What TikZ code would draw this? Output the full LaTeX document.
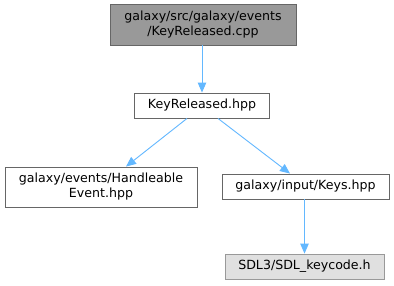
\documentclass[tikz,border=0pt]{standalone}
\usepackage{fontspec}
\setmainfont{DejaVu Sans}
\usetikzlibrary{arrows.meta}
\definecolor{edgeblue}{HTML}{63B8FF}
\definecolor{boxline}{HTML}{666666}
\definecolor{rootfill}{HTML}{999999}
\definecolor{extfill}{HTML}{E0E0E0}
\definecolor{extline}{HTML}{999999}
\begin{document}
\begin{tikzpicture}[x=1pt,y=-1pt,
  filebox/.style={draw=boxline, fill=white, line width=0.9pt, rectangle, align=center,
    inner sep=0pt, font=\fontsize{12.6}{15}\selectfont},
  rootbox/.style={filebox, fill=rootfill},
  extbox/.style={filebox, draw=extline, fill=extfill},
  dep/.style={draw=edgeblue, line width=0.9pt, -{Triangle[length=10pt,width=8.5pt]}}]
\useasboundingbox[fill=white] (0,0) rectangle (394,285);

\node[rootbox, minimum width=186pt, minimum height=41pt] (root) at (203,24.5)
  {galaxy/src/galaxy/events\\/KeyReleased.cpp};
\node[filebox, minimum width=135pt, minimum height=25pt] (kr) at (202,105.5)
  {KeyReleased.hpp};
\node[filebox, minimum width=192pt, minimum height=40pt] (he) at (101,187)
  {galaxy/events/Handleable\\Event.hpp};
\node[filebox, minimum width=167pt, minimum height=25pt] (keys) at (305.5,186.5)
  {galaxy/input/Keys.hpp};
\node[extbox, minimum width=159pt, minimum height=25pt] (sdl) at (304.5,266.5)
  {SDL3/SDL\_keycode.h};

\draw[dep] (root.south -| kr.north) -- (kr.north);
\draw[dep] ([xshift=-15pt]kr.south) -- ([xshift=25pt]he.north);
\draw[dep] ([xshift=16pt]kr.south) -- ([xshift=-15.5pt]keys.north);
\draw[dep] (keys.south -| sdl.north) -- (sdl.north);
\end{tikzpicture}
\end{document}
